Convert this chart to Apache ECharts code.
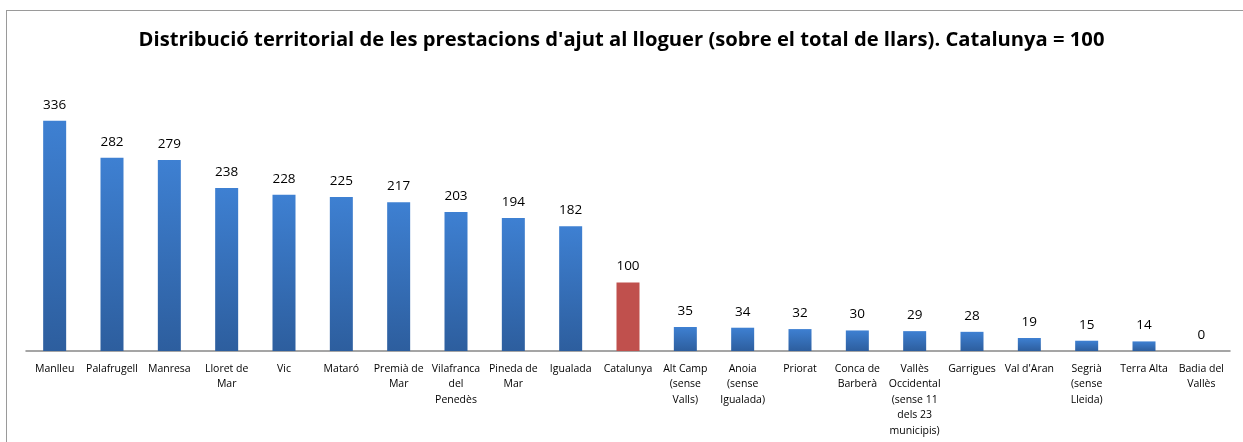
<!DOCTYPE html>
<html>
<head>
<meta charset="utf-8">
<script src="https://cdn.jsdelivr.net/npm/echarts@6/dist/echarts.min.js"></script>
<style>
html, body { margin: 0; padding: 0; background: #fff; }
#frame { position: absolute; left: 6px; top: 10px; width: 1237px; height: 432px;
  border-top: 1px solid #9a9a9a; border-left: 1px solid #9a9a9a; }
#chart { width: 1243px; height: 442px; }
</style>
</head>
<body>
<div id="frame"></div>
<div id="chart"></div>
<script>
// categories (with line breaks like the original)
const categories = [
    'Manlleu', 'Palafrugell', 'Manresa', 'Lloret de\nMar', 'Vic', 'Mataró',
    'Premià de\nMar', 'Vilafranca\ndel\nPenedès', 'Pineda de\nMar', 'Igualada',
    'Catalunya', 'Alt Camp\n(sense\nValls)', 'Anoia\n(sense\nIgualada)', 'Priorat',
    'Conca de\nBarberà', 'Vallès\nOccidental\n(sense 11\ndels 23\nmunicipis)',
    'Garrigues', "Val d'Aran", 'Segrià\n(sense\nLleida)', 'Terra Alta', 'Badia del\nVallès'
];
const values = [336, 282, 279, 238, 228, 225, 217, 203, 194, 182, 100, 35, 34, 32, 30, 29, 28, 19, 15, 14, 0];
const highlight = 'Catalunya';

const chart = echarts.init(document.getElementById('chart'));

const blue = new echarts.graphic.LinearGradient(0, 0, 0, 1, [
    { offset: 0, color: '#3e80d2' },
    { offset: 1, color: '#2d5e9e' }
]);

chart.setOption({
    animation: false,
    title: {
        text: "Distribució territorial de les prestacions d'ajut al lloguer (sobre el total de llars). Catalunya = 100",
        left: 'center',
        top: 25,
        textStyle: { fontFamily: 'Open Sans', fontWeight: 'bold', fontSize: 20.2, color: '#000' }
    },
    grid: { left: 26, right: 13, top: 77, bottom: 91 },
    xAxis: {
        type: 'category',
        data: categories,
        axisLine: { lineStyle: { color: '#888', width: 1.5 } },
        axisTick: { show: false },
        axisLabel: {
            interval: 0,
            color: '#000',
            fontFamily: 'Open Sans',
            fontSize: 10.5,
            lineHeight: 15.5,
            margin: 10
        }
    },
    yAxis: { type: 'value', min: 0, max: 400, show: false, splitLine: { show: false } },
    series: [{
        type: 'bar',
        barWidth: 23,
        data: values.map((v, i) => ({
            value: v,
            itemStyle: { color: categories[i] === highlight ? '#c0504d' : blue }
        })),
        label: {
            show: true,
            position: 'top',
            distance: 9,
            color: '#000',
            fontFamily: 'Open Sans',
            fontSize: 13.5
        }
    }]
});
</script>
</body>
</html>
